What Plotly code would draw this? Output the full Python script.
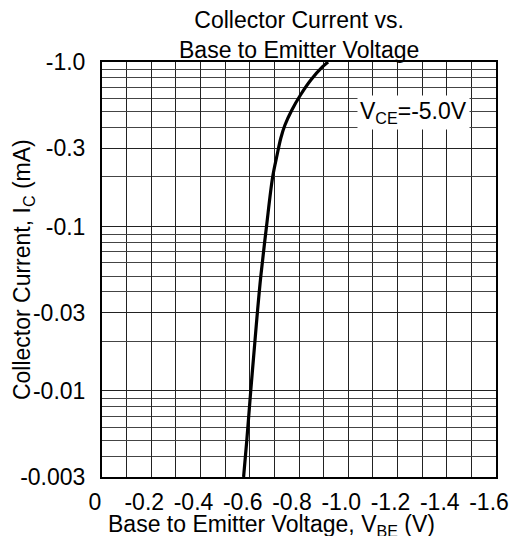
import numpy as np
import plotly.graph_objects as go

# Data (Vce = -5.0 V)
vbe_v = [-0.575, -0.588, -0.604, -0.621, -0.631, -0.645, -0.668, -0.693,
         -0.711, -0.726, -0.743, -0.771, -0.806, -0.848, -0.896, -0.918]
ic_ma = [-0.003, -0.005, -0.01, -0.02, -0.03, -0.05, -0.1, -0.2,
         -0.272, -0.344, -0.414, -0.511, -0.63, -0.777, -0.936, -1.0]

x_tick_vals = [0, -0.2, -0.4, -0.6, -0.8, -1.0, -1.2, -1.4, -1.6]
x_tick_text = ["0", "-0.2", "-0.4", "-0.6", "-0.8", "-1.0", "-1.2", "-1.4", "-1.6"]
y_tick_vals = [-1.0, -0.3, -0.1, -0.03, -0.01, -0.003]
y_tick_text = ["-1.0", "-0.3", "-0.1", "-0.03", "-0.01", "-0.003"]

FONT = "Liberation Sans, Arial, sans-serif"
FS = 23

# magnitudes for the log axis (labels show the negative values)
y_mag = [abs(v) for v in ic_ma]
y_tick_mag = [abs(v) for v in y_tick_vals]
y_minor = [d * m for m in (0.001, 0.01, 0.1) for d in range(2, 10)
           if 0.003 <= d * m <= 1.0]

fig = go.Figure()
fig.add_trace(go.Scatter(
    x=vbe_v, y=y_mag, mode="lines",
    line=dict(color="black", width=3.2, shape="spline", smoothing=1.0),
    hoverinfo="skip", showlegend=False,
))

# page body adds an 8px margin, so the figure is 16px smaller than the window
fig.update_layout(
    width=513, height=528,
    margin=dict(l=87, r=14, t=54, b=59),
    paper_bgcolor="white", plot_bgcolor="white",
    font=dict(family=FONT, size=FS, color="black"),
    showlegend=False,
    xaxis=dict(
        range=[0, -1.6], tickvals=x_tick_vals, ticktext=x_tick_text,
        showgrid=True, gridcolor="#222", gridwidth=1,
        minor=dict(dtick=0.1, tick0=0, showgrid=True, gridcolor="#222", gridwidth=1),
        showline=True, linecolor="black", linewidth=2, mirror=True,
        ticks="", ticklabelstandoff=3, ticklabelshift=7, zeroline=False,
        tickfont=dict(family=FONT, size=FS),
    ),
    yaxis=dict(
        type="log", range=[np.log10(0.003), 0],
        tickvals=y_tick_mag, ticktext=y_tick_text,
        showgrid=True, gridcolor="#222", gridwidth=1,
        minor=dict(tickvals=y_minor, showgrid=True, gridcolor="#444", gridwidth=1),
        showline=True, linecolor="black", linewidth=2, mirror=True,
        ticks="", ticklabelstandoff=10, zeroline=False,
        tickfont=dict(family=FONT, size=FS),
    ),
    annotations=[
        dict(text="Collector Current vs.<br>Base to Emitter Voltage",
             xref="paper", yref="paper", x=0.5, y=1, xanchor="center",
             yanchor="bottom", yshift=-3, showarrow=False,
             font=dict(family=FONT, size=FS)),
        dict(text="Collector Current, I<sub>C</sub> (mA)",
             xref="paper", yref="paper", x=(13 - 95) / 412, y=0.5,
             xanchor="center", yanchor="middle", textangle=-90,
             showarrow=False, font=dict(family=FONT, size=FS)),
        dict(text="Base to Emitter Voltage, V<sub>BE</sub> (V)",
             xref="paper", yref="paper", x=(272 - 95) / 412,
             y=(477 - 525) / 415, xanchor="center", yanchor="middle",
             showarrow=False, font=dict(family=FONT, size=FS)),
        dict(text="V<sub>CE</sub>=-5.0V",
             xref="x", yref="y", x=-1.266, y=-0.307,
             xanchor="center", yanchor="middle", showarrow=False,
             bgcolor="white", borderpad=2,
             font=dict(family=FONT, size=FS)),
    ],
)

fig.write_html("out.html", config={"displayModeBar": False})
